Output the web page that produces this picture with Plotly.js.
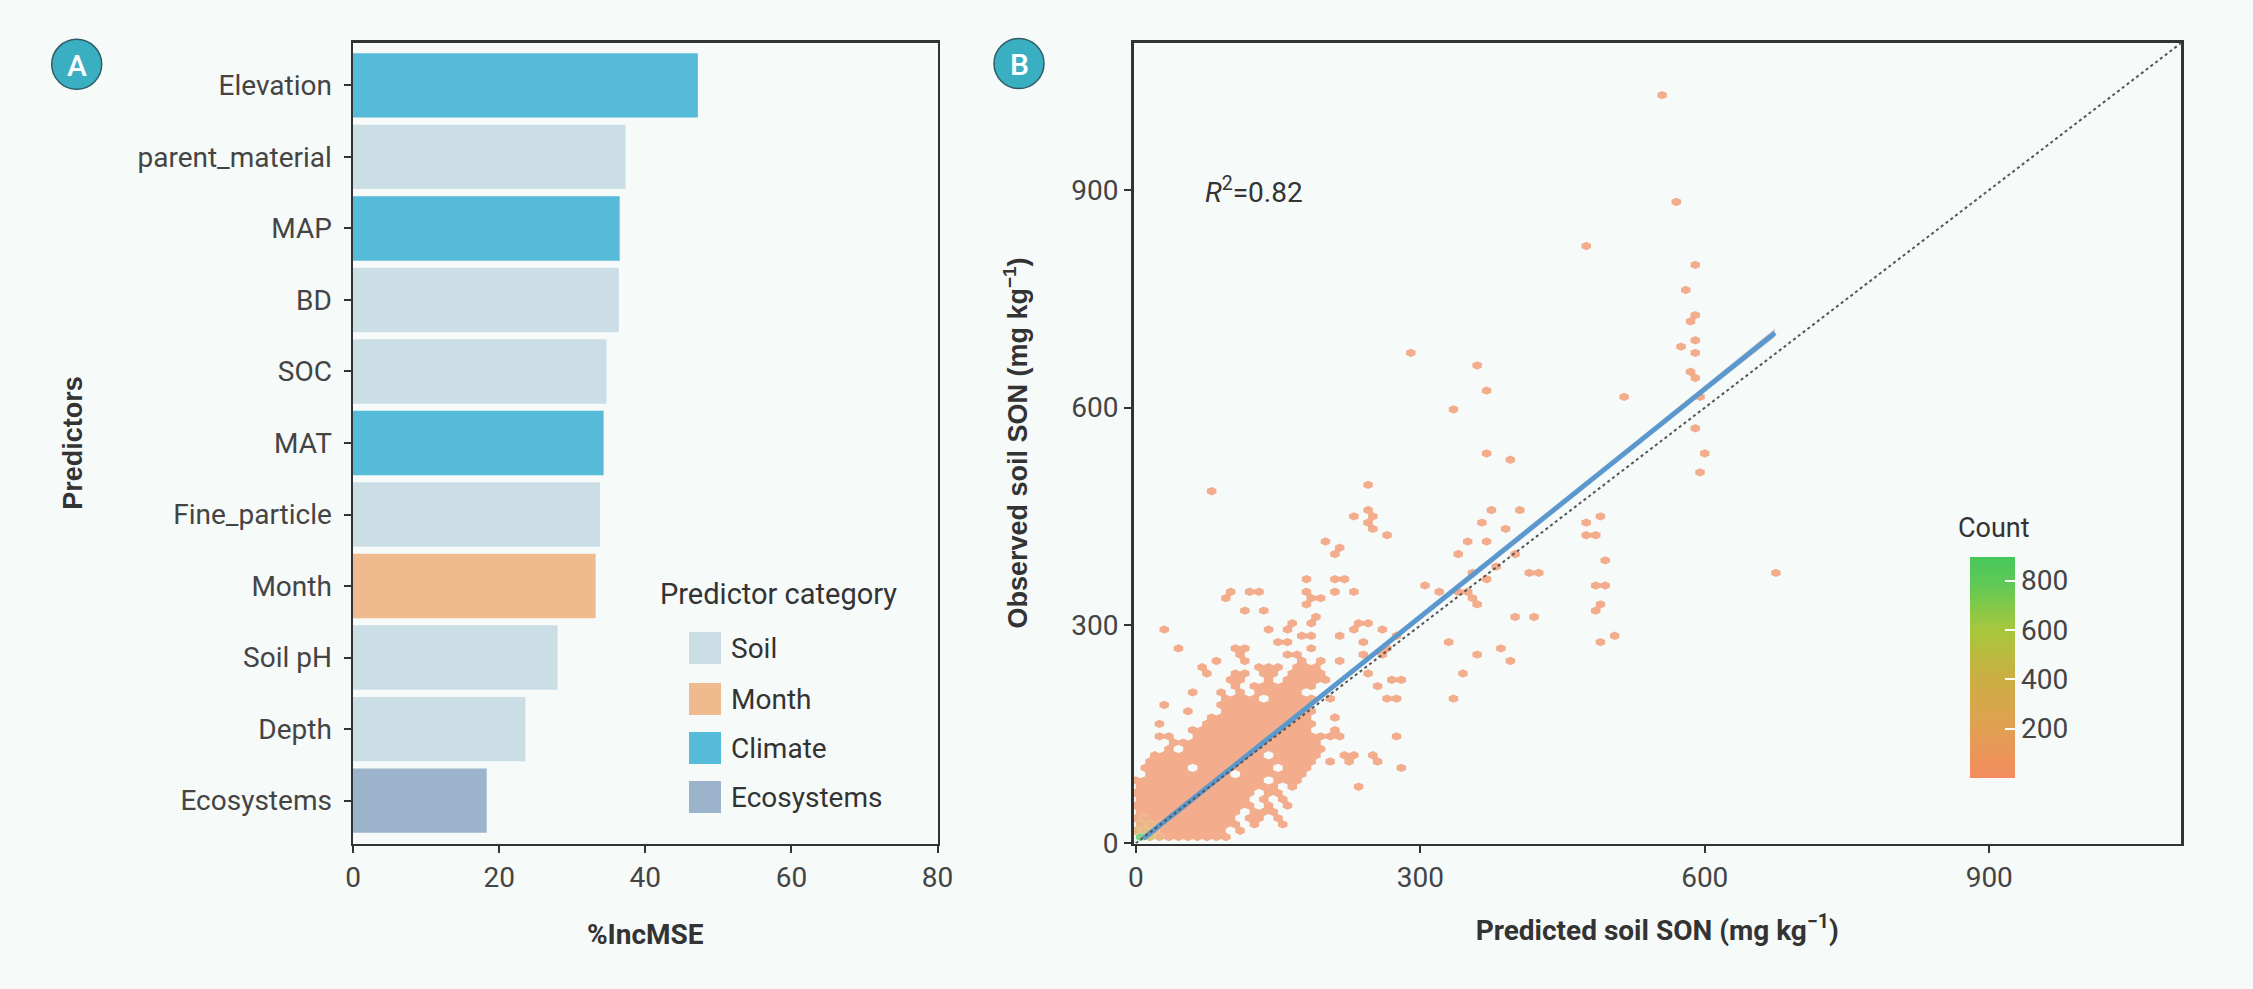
<!DOCTYPE html>
<html><head><meta charset="utf-8">
<script src="https://cdn.plot.ly/plotly-3.0.1.min.js"></script>
<style>html,body{margin:0;padding:0;background:#f6faf9;} #chart{width:2253px;height:989px;}</style>
</head><body><div id="chart"></div>
<script>
// ---------- Panel A data ----------
const predictors = ["Elevation","parent_material","MAP","BD","SOC","MAT","Fine_particle","Month","Soil pH","Depth","Ecosystems"];
const incMSE = [47.2, 37.3, 36.5, 36.4, 34.7, 34.3, 33.8, 33.2, 28.0, 23.6, 18.3];
const predictorCategory = ["Climate","Soil","Climate","Soil","Soil","Climate","Soil","Month","Soil","Soil","Ecosystems"];
const categoryNames = ["Soil","Month","Climate","Ecosystems"];
const categoryColors = ["#CBDEE6","#EFBA8D","#55BBD8","#9BB4CB"];
const xTicksA = [0, 20, 40, 60, 80];

// ---------- Panel B data (hexbin cells) ----------
const hexBinWidth = 10;
const hexRowJ = [1,2,3,4,5,6,7,8,9,10,11,12,13,14,15,16,17,18,19,20,21,22,23,24,25,26,27,28,29,30,31,32,33,34,35,36,37,38,39,40,41,42,43,44,45,46,47,48,49,50,51,52,53,56,57,59,61,62,66,69,71,72,74,75,76,78,79,80,83,84,88,92,95,102,119];
const hexRowCols = [
 [0,1,2,3,4,5,6,7,8,9],
 [0,1,2,3,4,5,6,7,8,9,11],
 [0,1,2,3,4,5,6,7,8,9,10,12,15],
 [0,1,2,3,4,5,6,7,8,9,10,12,13,15],
 [0,1,2,3,4,5,6,7,8,9,10,12,13,14],
 [0,1,2,3,4,5,6,7,8,9,10,11,12,14,16],
 [0,1,2,3,4,5,6,7,8,9,10,11,13,15],
 [0,1,2,3,4,5,6,7,8,9,10,11,12,14,15],
 [0,1,2,3,4,5,6,7,8,9,10,11,12,13,14,16,23],
 [0,1,2,3,4,5,6,7,8,9,10,11,12,13,15,16,17],
 [1,2,3,4,5,6,7,8,9,11,12,13,14,15,16,17],
 [1,2,3,4,5,7,8,9,10,11,12,13,14,16,17,18,28],
 [1,2,3,4,5,6,7,8,9,10,11,12,13,14,15,16,17,18,20,22,25],
 [2,3,4,5,6,7,8,9,10,11,12,13,15,16,17,18,19,22,23,25],
 [3,5,6,7,8,9,10,11,12,13,14,15,16,17,18,19],
 [4,5,6,7,8,9,10,11,12,13,14,15,16,17,18,19],
 [2,3,6,7,8,9,10,11,12,13,14,15,16,17,18,19,20,21,27],
 [6,7,8,9,10,11,12,13,14,15,16,17,18,21],
 [2,7,8,9,10,11,12,13,14,15,16,17,18],
 [8,9,10,11,12,13,14,15,16,17,18,21],
 [5,9,10,11,12,13,14,15,16,17,18],
 [3,9,10,11,12,13,14,15,16,17,18],
 [9,10,11,12,14,15,16,17,18,20,26,27,33],
 [6,9,11,13,14,15,16,17],
 [10,12,13,14,15,16,17,18,25],
 [10,11,14,16,17,18,19,20,27,28],
 [7,10,11,13,14,16,17,18,19,24,34],
 [7,13,14,15,17,18,19],
 [8,11,17,19,21,39],
 [11,16,17,24,26,36],
 [4,10,11,18,26,38],
 [15,16,24,33,49],
 [17,18,21,27,50],
 [3,14,16,23,26],
 [16,18,23,24],
 [19,40,42],
 [11,13,48],
 [18,36,49],
 [9,18,19,35],
 [10,12,13,18,21,23,32,34,35],
 [30,48,49],
 [18,21,22,37],
 [35,41,42,67],
 [38],
 [49],
 [21,34,40],
 [21],
 [20,35,37],
 [26,47,48],
 [25,39],
 [24,36,47],
 [23,25,49],
 [24,37,40],
 [8],
 [24],
 [59],
 [39],
 [37,60],
 [59],
 [33],
 [51,59],
 [37],
 [59],
 [58],
 [36],
 [29,59],
 [57],
 [59],
 [58],
 [59],
 [58],
 [59],
 [47],
 [57],
 [55]
];
const hexBaseCount = 10;
const hexPeakJ = [1, 1, 1, 2, 2, 2, 3, 3, 3, 4];
const hexPeakI = [0, 1, 2, 0, 1, 2, 0, 1, 2, 1];
const hexPeakCount = [897, 420, 130, 180, 260, 120, 110, 150, 90, 90];

const fitX = [8, 674];
const fitY = [6.6, 703];
const bandX = [8, 150, 300, 450, 600, 674];
const bandLo = [3.5, 153.4, 310.4, 466.6, 621.5, 697];
const bandHi = [9.7, 156.8, 313.4, 470.8, 629.7, 709];
const oneToOneX = [0, 1102];
const oneToOneY = [0, 1102];
const r2Value = "0.82";
const ticksB = [0, 300, 600, 900];
const countTicks = [200, 400, 600, 800];
const countRange = [1, 897];
const countStops = [0, 0.22, 0.45, 0.67, 0.88, 1];
const countColors = ["#F38B60", "#E2A052", "#CBAE43", "#A7C73C", "#5FC956", "#47C75A"];

// ---------- helpers ----------
const W = 2253, H = 989;
const BG = "#f6faf9";
const px = v => v / W;
const py = v => (H - v) / H;
function hex2rgb(h){ return [parseInt(h.slice(1,3),16), parseInt(h.slice(3,5),16), parseInt(h.slice(5,7),16)]; }
function scaleColor(c){
  const t = Math.max(0, Math.min(1, (c - countRange[0]) / (countRange[1] - countRange[0])));
  let k = 0; while (k < countStops.length - 2 && t > countStops[k+1]) k++;
  const f = (t - countStops[k]) / (countStops[k+1] - countStops[k]);
  const a = hex2rgb(countColors[k]), b = hex2rgb(countColors[k+1]);
  return a.map((v, n) => v + (b[n] - v) * f);
}
function blended(c){
  const rgb = scaleColor(c), bg = hex2rgb(BG), alpha = 0.7;
  const m = rgb.map((v, n) => Math.round(v * alpha + bg[n] * (1 - alpha)));
  return "rgb(" + m.join(",") + ")";
}

// cells
const cells = [];
hexRowJ.forEach((j, r) => {
  hexRowCols[r].forEach(i => {
    let cnt = hexBaseCount;
    for (let k = 0; k < hexPeakJ.length; k++) if (hexPeakJ[k] === j && hexPeakI[k] === i) cnt = hexPeakCount[k];
    const cx = hexBinWidth * i + (j % 2 ? hexBinWidth / 2 : 0);
    const cy = j * hexBinWidth * Math.sqrt(3) / 2;
    cells.push({cx, cy, cnt});
  });
});

const groups = {};
const dx = hexBinWidth / 2, dyTop = hexBinWidth / Math.sqrt(3), dySide = hexBinWidth / (2 * Math.sqrt(3));
cells.forEach(c => {
  const col = blended(c.cnt);
  if (!groups[col]) groups[col] = {x: [], y: []};
  const g = groups[col];
  g.x.push(c.cx, c.cx + dx, c.cx + dx, c.cx, c.cx - dx, c.cx - dx, c.cx, null);
  g.y.push(c.cy + dyTop, c.cy + dySide, c.cy - dySide, c.cy - dyTop, c.cy - dySide, c.cy + dySide, c.cy + dyTop, null);
});

const traces = [];
traces.push({
  type: "bar", orientation: "h", y: predictors, x: incMSE, width: 0.9,
  marker: {color: predictorCategory.map(c => categoryColors[categoryNames.indexOf(c)]), line: {width: 0}},
  xaxis: "x", yaxis: "y", showlegend: false, hoverinfo: "x+y"
});
Object.keys(groups).forEach(col => {
  traces.push({
    type: "scatter", mode: "lines", x: groups[col].x, y: groups[col].y, fill: "toself",
    fillcolor: col, line: {width: 0, color: col}, xaxis: "x2", yaxis: "y2",
    showlegend: false, hoverinfo: "skip", connectgaps: false
  });
});
traces.push({
  type: "scatter", mode: "markers", x: cells.map(c => c.cx), y: cells.map(c => c.cy),
  xaxis: "x2", yaxis: "y2", showlegend: false, hoverinfo: "skip",
  marker: {size: 1, opacity: 0, color: cells.map(c => c.cnt), cmin: countRange[0], cmax: countRange[1],
    colorscale: countStops.map((s, k) => [s, countColors[k]]), showscale: true,
    colorbar: {
      thickness: 45, thicknessmode: "pixels", len: 221, lenmode: "pixels",
      x: px(1970), xanchor: "left", y: py(777.7), yanchor: "bottom", xpad: 0, ypad: 0,
      outlinewidth: 0, tickvals: countTicks, ticks: "inside", ticklen: 10, tickwidth: 2, tickcolor: "#ffffff",
      tickfont: {family: "Roboto", size: 28, color: "#444"}, bgcolor: "rgba(0,0,0,0)"
    }}
});
traces.push({
  type: "scatter", mode: "lines", x: bandX.concat(bandX.slice().reverse()), y: bandHi.concat(bandLo.slice().reverse()),
  fill: "toself", fillcolor: "rgba(150,150,150,0.45)", line: {width: 0}, xaxis: "x2", yaxis: "y2",
  showlegend: false, hoverinfo: "skip"
});
traces.push({
  type: "scatter", mode: "lines", x: fitX, y: fitY, line: {color: "#5B98CD", width: 5},
  xaxis: "x2", yaxis: "y2", showlegend: false
});
traces.push({
  type: "scatter", mode: "lines", x: oneToOneX, y: oneToOneY, line: {color: "#555", width: 2, dash: "dot"},
  xaxis: "x2", yaxis: "y2", showlegend: false, hoverinfo: "skip"
});

const yDom = [py(843.5), py(42.5)];
const axisCommon = {
  showline: true, mirror: true, linecolor: "#333", linewidth: 2.5, showgrid: false, zeroline: false,
  ticks: "outside", ticklen: 7, tickwidth: 2, tickcolor: "#333",
  tickfont: {family: "Roboto", size: 28, color: "#444"}
};
const font = "Roboto";
const xTitleFont = {family: font, size: 28, color: "#333", weight: "bold"};
const yTitleFont = {family: "Liberation Sans", size: 27, color: "#333", weight: "bold"};

function ann(text, x, y, opts){
  return Object.assign({text, x: px(x), y: py(y), xref: "paper", yref: "paper", showarrow: false,
    xanchor: "center", yanchor: "middle"}, opts);
}
const annotations = [
  ann("<i>R</i><sup>2</sup>=" + r2Value, 1203, 190, {xanchor: "left", font: {family: font, size: 28, color: "#333"}}),
  ann("Predictor category", 658, 594, {xanchor: "left", font: {family: font, size: 29, color: "#333"}}),
  ann("Count", 1956, 528, {xanchor: "left", font: {family: font, size: 27, color: "#333"}}),
  ann("A", 76.7, 65, {font: {family: font, size: 30, color: "#ffffff", weight: 500}}),
  ann("B", 1019, 64.2, {font: {family: font, size: 30, color: "#ffffff", weight: 500}})
];
const shapes = [
  {type: "circle", xref: "paper", yref: "paper", x0: px(51.7), x1: px(101.7), y0: py(89.3), y1: py(39.3),
   fillcolor: "#3AAFC2", line: {color: "#2E5D68", width: 1.5}, layer: "below"},
  {type: "circle", xref: "paper", yref: "paper", x0: px(994), x1: px(1044), y0: py(88.5), y1: py(38.5),
   fillcolor: "#3AAFC2", line: {color: "#2E5D68", width: 1.5}, layer: "below"}
];
const legendY = [648, 699, 748, 797];
categoryNames.forEach((name, k) => {
  shapes.push({type: "rect", xref: "paper", yref: "paper", x0: px(689), x1: px(721), y0: py(legendY[k] + 16), y1: py(legendY[k] - 16),
    fillcolor: categoryColors[k], line: {width: 0}});
  annotations.push(ann(name, 729, legendY[k], {xanchor: "left", font: {family: font, size: 28, color: "#333"}}));
});

const layout = {
  width: W, height: H, margin: {l: 0, r: 0, t: 0, b: 0},
  paper_bgcolor: BG, plot_bgcolor: BG, showlegend: false,
  font: {family: font, color: "#333"},
  xaxis: Object.assign({}, axisCommon, {domain: [px(353), px(937.5)], range: [0, 80], tickvals: xTicksA, anchor: "y",
    title: {text: "%IncMSE", font: xTitleFont, standoff: 32}}),
  yaxis: Object.assign({}, axisCommon, {domain: yDom, type: "category", categoryarray: predictors, categoryorder: "array",
    range: [10.6, -0.6], anchor: "x", ticklabelstandoff: 6,
    title: {text: "Predictors", font: yTitleFont, standoff: 47}}),
  xaxis2: Object.assign({}, axisCommon, {domain: [px(1133.5), px(2181)], range: [-2.4, 1102.2], tickvals: ticksB, anchor: "y2",
    title: {text: "Predicted soil SON (mg kg<sup>−1</sup>)", font: xTitleFont, standoff: 28}}),
  yaxis2: Object.assign({}, axisCommon, {domain: yDom, range: [-0.3, 1103], tickvals: ticksB, anchor: "x2",
    title: {text: "Observed soil SON (mg kg<sup>−1</sup>)", font: yTitleFont, standoff: 36}}),
  annotations, shapes
};

Plotly.newPlot("chart", traces, layout, {displayModeBar: false, staticPlot: true});
</script>
</body></html>
